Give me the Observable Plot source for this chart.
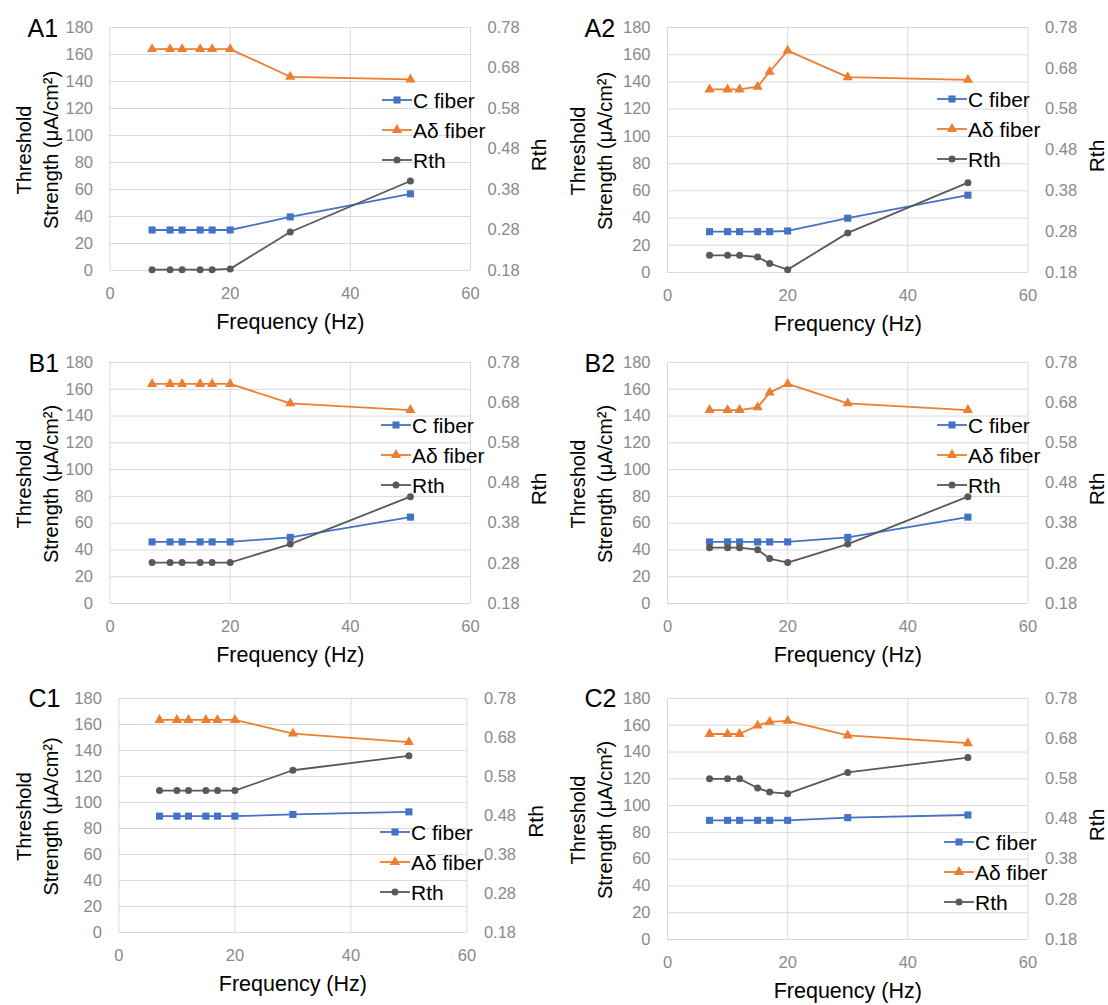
<!DOCTYPE html>
<html>
<head>
<meta charset="utf-8">
<script src="https://cdn.jsdelivr.net/npm/d3@7"></script>
<script src="https://cdn.jsdelivr.net/npm/@observablehq/plot@0.6"></script>
<style>
  body { margin: 0; background: #fff; }
  #chart { position: relative; width: 1108px; height: 1005px; font-family: "Liberation Sans", Arial, sans-serif; }
  .panel { position: absolute; }
</style>
</head>
<body>
<div id="chart"></div>
<script>
// Stimulation frequencies (Hz), shared by every panel
const frequencies = [7, 10, 12, 15, 17, 20, 30, 50];

// Threshold strength (µA/cm²) of C fibers
const cFiberA1 = [30, 30, 30, 30, 30, 30, 39.7, 56.8];
const cFiberA2 = [30, 30, 30, 30, 30, 30.5, 39.9, 56.8];
const cFiberB1 = [46, 46, 46, 46, 46, 46, 49.4, 64.5];
const cFiberB2 = [46, 46, 46, 46, 46, 46, 49.4, 64.5];
const cFiberC1 = [89.5, 89.5, 89.5, 89.5, 89.5, 89.5, 90.8, 92.8];
const cFiberC2 = [89, 89, 89, 89, 89, 89, 91, 93];

// Threshold strength (µA/cm²) of Aδ fibers
const adFiberA1 = [164, 164, 164, 164, 164, 164, 143.5, 141.5];
const adFiberA2 = [134.5, 134.5, 134.5, 136.5, 147.5, 163, 143.5, 141.5];
const adFiberB1 = [164, 164, 164, 164, 164, 164, 149.5, 144.5];
const adFiberB2 = [144.5, 144.5, 144.5, 146.5, 157.5, 164, 149.5, 144.5];
const adFiberC1 = [163.5, 163.5, 163.5, 163.5, 163.5, 163.5, 153, 146.5];
const adFiberC2 = [153.5, 153.5, 153.5, 159.8, 162.6, 163.3, 152.4, 146.6];

// Threshold ratio Rth (secondary axis)
const rthA1 = [0.182, 0.182, 0.182, 0.182, 0.182, 0.184, 0.275, 0.401];
const rthA2 = [0.222, 0.222, 0.222, 0.218, 0.202, 0.187, 0.277, 0.400];
const rthB1 = [0.282, 0.282, 0.282, 0.282, 0.282, 0.282, 0.328, 0.446];
const rthB2 = [0.319, 0.319, 0.319, 0.314, 0.292, 0.282, 0.328, 0.446];
const rthC1 = [0.544, 0.544, 0.544, 0.544, 0.544, 0.544, 0.596, 0.633];
const rthC2 = [0.580, 0.580, 0.580, 0.557, 0.547, 0.543, 0.596, 0.633];

// Panel names and axis ticks
const panelNames = ["A1", "A2", "B1", "B2", "C1", "C2"];
const xTicks = [0, 20, 40, 60];
const yTicks = [0, 20, 40, 60, 80, 100, 120, 140, 160, 180];
const rthTicks = [0.18, 0.28, 0.38, 0.48, 0.58, 0.68, 0.78];
const seriesNames = ["C fiber", "Aδ fiber", "Rth"];

const cFiber = [cFiberA1, cFiberA2, cFiberB1, cFiberB2, cFiberC1, cFiberC2];
const adFiber = [adFiberA1, adFiberA2, adFiberB1, adFiberB2, adFiberC1, adFiberC2];
const rth = [rthA1, rthA2, rthB1, rthB2, rthC1, rthC2];

// Secondary axis: 0.18–0.78 shares the vertical extent of 0–180
const rthMin = 0.18, rthMax = 0.78, leftMax = 180;
const rthToLeft = r => (r - rthMin) / (rthMax - rthMin) * leftMax;
const leftToRth = v => rthMin + v / leftMax * (rthMax - rthMin);

// Series styling
const styles = {
  "C fiber": {color: "#4472C4", symbol: "square", r: 4},
  "Aδ fiber": {color: "#ED7D31", symbol: "triangle", r: 3.8},
  "Rth": {color: "#595959", symbol: "circle", r: 3.5}
};
const d3Symbols = {square: d3.symbolSquare, triangle: d3.symbolTriangle, circle: d3.symbolCircle};

// Panel layout: origin in the page, plot-frame margins and legend placement
const layout = [
  {left: 0,   top: 0,   ml: 109.5, mr: 84,   mt: 27, mb: 65, legX: 382, legY: 100, lab: 27},
  {left: 554, top: 0,   ml: 113,   mr: 80.5, mt: 27, mb: 63, legX: 383, legY: 99,  lab: 30},
  {left: 0,   top: 335, ml: 109.5, mr: 84,   mt: 27, mb: 67, legX: 381, legY: 90,  lab: 28},
  {left: 554, top: 335, ml: 113,   mr: 80.5, mt: 27, mb: 67, legX: 383, legY: 90,  lab: 30},
  {left: 0,   top: 670, ml: 118.4, mr: 87.6, mt: 28, mb: 73, legX: 380, legY: 162, lab: 28},
  {left: 554, top: 670, ml: 113,   mr: 80.5, mt: 28, mb: 66, legX: 390, legY: 172, lab: 30}
];

const W = 554, H = 335;
const tickColor = "#8a8a8a";
const gridColor = "#d9d9d9";
const font = "'Liberation Sans', Arial, sans-serif";

const container = document.getElementById("chart");

panelNames.forEach((name, k) => {
  const L = layout[k];
  const rows = [];
  frequencies.forEach((f, i) => {
    rows.push({series: "C fiber", f, v: cFiber[k][i]});
    rows.push({series: "Aδ fiber", f, v: adFiber[k][i]});
    rows.push({series: "Rth", f, v: rthToLeft(rth[k][i])});
  });

  const seriesMarks = seriesNames.flatMap(s => {
    const d = rows.filter(r => r.series === s);
    const st = styles[s];
    return [
      Plot.line(d, {x: "f", y: "v", stroke: st.color, strokeWidth: 1.8}),
      Plot.dot(d, {x: "f", y: "v", symbol: () => st.symbol, r: st.r, fill: st.color, stroke: "none"})
    ];
  });

  const svg = Plot.plot({
    width: W,
    height: H,
    marginLeft: L.ml,
    marginRight: L.mr,
    marginTop: L.mt,
    marginBottom: L.mb,
    style: {fontFamily: font, fontSize: "16px", background: "transparent", overflow: "visible"},
    x: {domain: [0, 60]},
    y: {domain: [0, 180]},
    symbol: {type: "identity"},
    marks: [
      Plot.gridY(yTicks, {stroke: gridColor, strokeOpacity: 1, strokeWidth: 1}),
      Plot.gridX(xTicks, {stroke: gridColor, strokeOpacity: 1, strokeWidth: 1}),
      Plot.axisX(xTicks, {tickSize: 0, tickPadding: 17, fill: tickColor, fontSize: 16.5, label: null}),
      Plot.axisY(yTicks, {anchor: "left", tickSize: 0, tickPadding: 17, fill: tickColor, fontSize: 16.5, label: null}),
      Plot.axisY(rthTicks.map(rthToLeft), {
        anchor: "right", tickSize: 0, tickPadding: 17, fill: tickColor, fontSize: 16.5, label: null,
        tickFormat: v => leftToRth(v).toFixed(2)
      }),
      ...seriesMarks,
      // axis titles
      Plot.text(["Frequency (Hz)"], {text: d => d, frameAnchor: "bottom", textAnchor: "middle", dy: 58, fontSize: 21.5, fill: "black"}),
      Plot.text(["Threshold\nStrength (μA/cm²)"], {
        text: d => d, frameAnchor: "left", textAnchor: "middle", rotate: -90, dx: -(L.ml - 35), dy: 1,
        fontSize: 20, lineHeight: 1.38, fill: "black"
      }),
      Plot.text(["Rth"], {text: d => d, frameAnchor: "right", textAnchor: "middle", rotate: -90, dx: 69, dy: 6, fontSize: 21, fill: "black"}),
      // panel label
      Plot.text([name], {
        text: d => d, frameAnchor: "top-left", dx: L.lab - L.ml, dy: 36 - L.mt,
        textAnchor: "start", lineAnchor: "bottom", fontSize: 25, fill: "black"
      })
    ]
  });

  // legend on top of the plot frame
  const g = d3.select(svg).append("g").attr("font-family", font).attr("text-anchor", "start");
  seriesNames.forEach((s, i) => {
    const st = styles[s];
    const y = L.legY + i * 30;
    const x0 = L.legX, x1 = L.legX + 30;
    g.append("line").attr("x1", x0).attr("x2", x1).attr("y1", y).attr("y2", y)
      .attr("stroke", st.color).attr("stroke-width", 1.8);
    g.append("path")
      .attr("d", d3.symbol(d3Symbols[st.symbol], Math.PI * st.r * st.r)())
      .attr("transform", `translate(${(x0 + x1) / 2},${y})`)
      .attr("fill", st.color);
    g.append("text").attr("x", x1 + 1).attr("y", y).attr("dy", "0.36em")
      .attr("font-size", 21).attr("fill", "black").text(s);
  });

  const div = document.createElement("div");
  div.className = "panel";
  div.style.left = L.left + "px";
  div.style.top = L.top + "px";
  div.appendChild(svg);
  container.appendChild(div);
});
</script>
</body>
</html>
